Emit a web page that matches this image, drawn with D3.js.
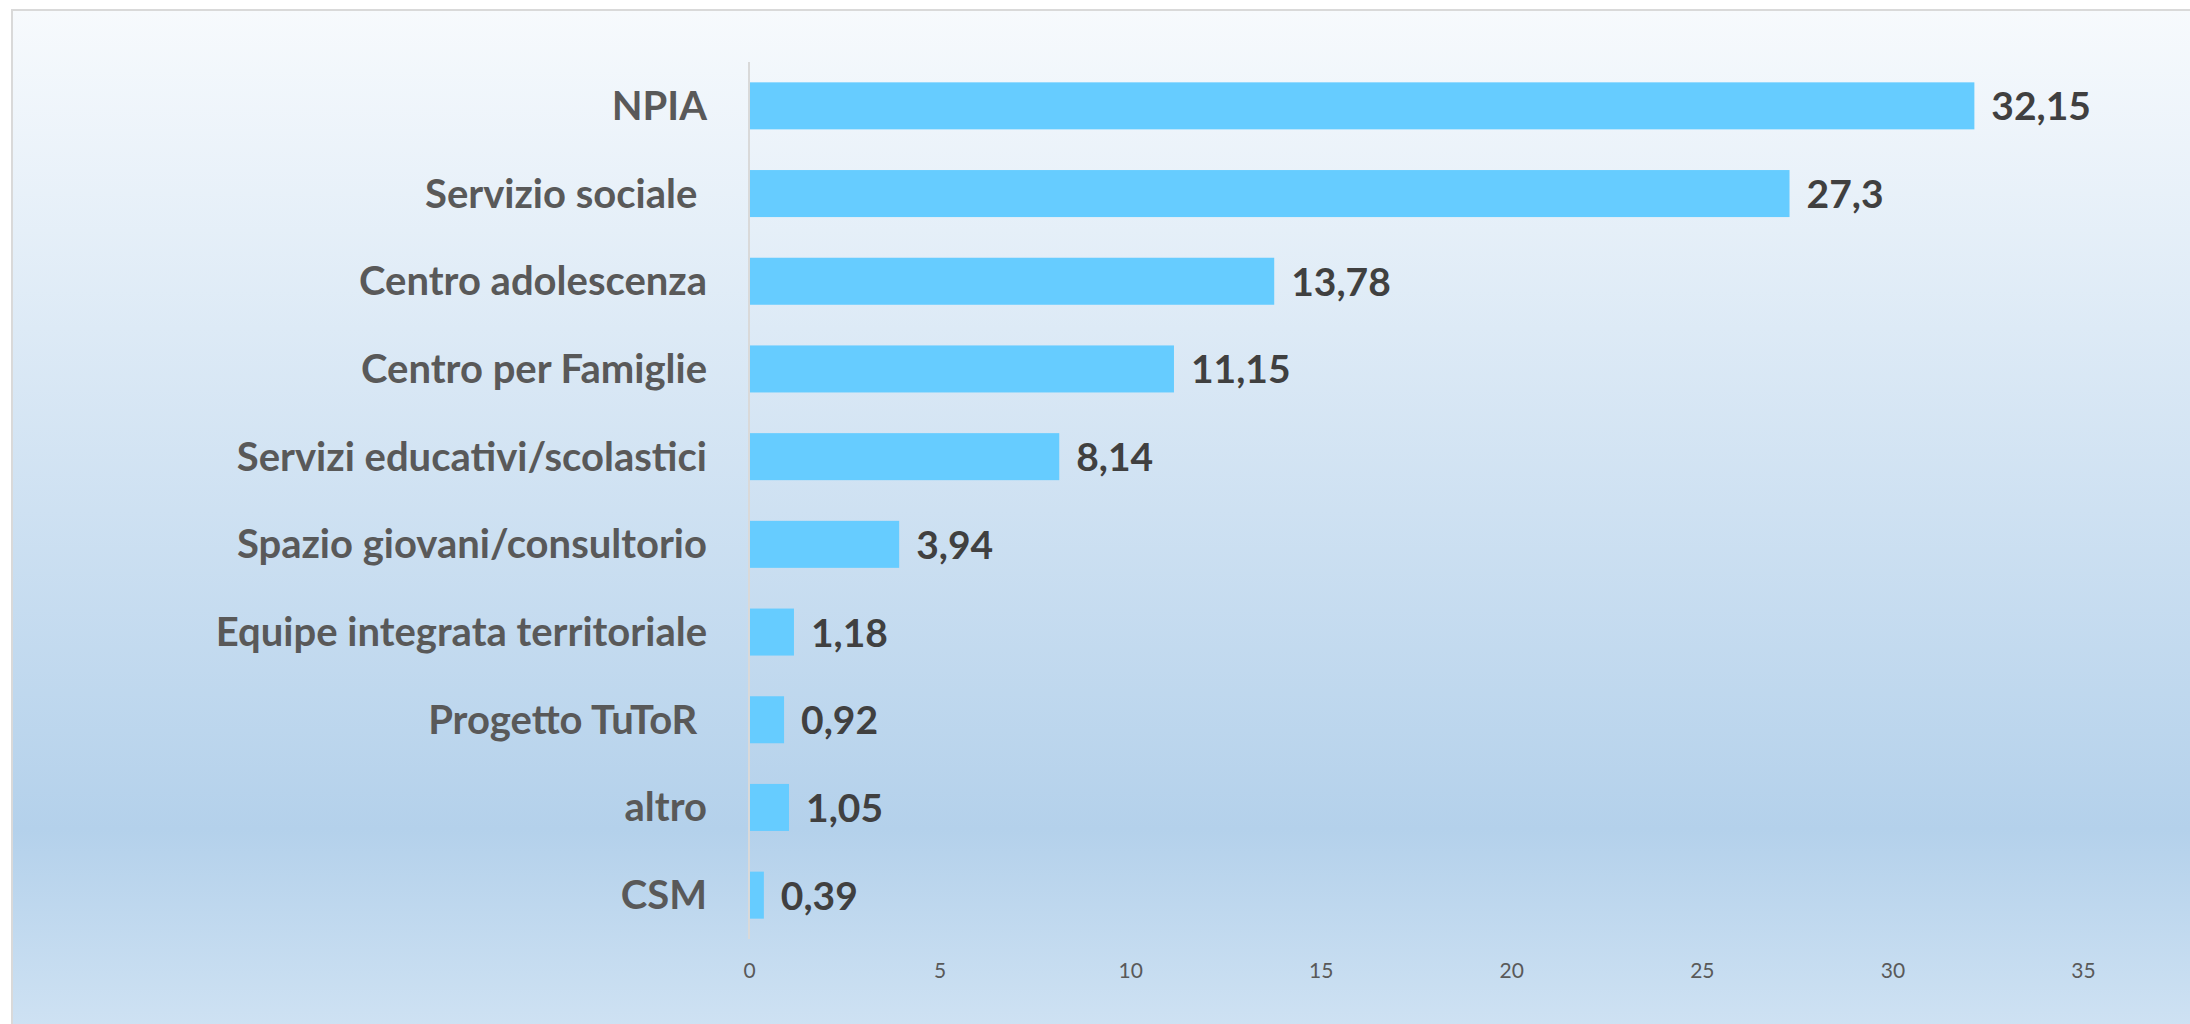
<!DOCTYPE html>
<html>
<head>
<meta charset="utf-8">
<script src="https://cdn.jsdelivr.net/npm/d3@7"></script>
<style>
  body { margin: 0; background: #fff; }
  svg text { white-space: pre; }
</style>
</head>
<body>
<div id="chart"></div>
<script>
// ===========================================================
// DATA
// ===========================================================
var categories = [
    "NPIA",
    "Servizio sociale ",
    "Centro adolescenza",
    "Centro per Famiglie",
    "Servizi educativi/scolastici",
    "Spazio giovani/consultorio",
    "Equipe integrata territoriale",
    "Progetto TuToR ",
    "altro",
    "CSM"
];
var values = [32.15, 27.3, 13.78, 11.15, 8.14, 3.94, 1.18, 0.92, 1.05, 0.39];
var valueLabels = ["32,15", "27,3", "13,78", "11,15", "8,14", "3,94", "1,18", "0,92", "1,05", "0,39"];
var xTicks = [0, 5, 10, 15, 20, 25, 30, 35];

// ===========================================================
// SIZES
// ===========================================================
var svgWidth = 2190;
var svgHeight = 1024;

var plot = { left: 749, right: 2083, top: 62, bottom: 939 };

var svg = d3.select('#chart')
    .append('svg')
    .attr('width', svgWidth)
    .attr('height', svgHeight);

// background gradient
var defs = svg.append('defs');
var grad = defs.append('linearGradient')
    .attr('id', 'bg')
    .attr('x1', 0).attr('y1', 0)
    .attr('x2', 0).attr('y2', 1);
grad.append('stop').attr('offset', '0').attr('stop-color', '#f7fafd');
grad.append('stop').attr('offset', '0.8').attr('stop-color', '#b4d1eb');
grad.append('stop').attr('offset', '1').attr('stop-color', '#cfe2f3');

svg.append('rect')
    .attr('x', 12)
    .attr('y', 10)
    .attr('width', svgWidth)
    .attr('height', svgHeight)
    .attr('fill', 'url(#bg)')
    .attr('stroke', '#d9d9d9')
    .attr('stroke-width', 2);

// ===========================================================
// SCALES
// ===========================================================
var x = d3.scaleLinear()
    .domain([0, 35])
    .range([plot.left, plot.right]);

var y = d3.scaleBand()
    .domain(categories)
    .range([plot.top, plot.bottom])
    .paddingInner(0.464)
    .paddingOuter(0.232);

// x axis labels
var xAxis = svg.append('g')
    .attr('transform', 'translate(0,' + 978 + ')')
    .call(d3.axisBottom(x).tickValues(xTicks).tickSize(0).tickFormat(d3.format('d')));
xAxis.select('.domain').remove();
xAxis.selectAll('text')
    .attr('y', 0)
    .attr('dy', 0)
    .attr('fill', '#595959')
    .style('font-family', 'Lato, sans-serif')
    .style('font-size', '21px');

// bars
svg.append('g')
    .selectAll('rect')
    .data(values)
    .enter()
    .append('rect')
    .attr('x', x(0))
    .attr('y', function(d, i) { return y(categories[i]); })
    .attr('width', function(d) { return x(d) - x(0); })
    .attr('height', y.bandwidth())
    .attr('fill', '#66ccff');

// vertical axis line
svg.append('line')
    .attr('x1', x(0)).attr('x2', x(0))
    .attr('y1', plot.top).attr('y2', plot.bottom)
    .attr('stroke', '#d9d9d9')
    .attr('stroke-width', 2);

// ===========================================================
// LABELS
// ===========================================================
svg.append('g')
    .selectAll('text')
    .data(categories)
    .enter()
    .append('text')
    .attr('x', 707)
    .attr('y', function(d) { return y(d) + y.bandwidth() / 2 + 14; })
    .attr('text-anchor', 'end')
    .attr('fill', '#595959')
    .style('font-family', 'Lato, sans-serif')
    .style('font-weight', 'bold')
    .style('font-size', '40px')
    .text(function(d) { return d; });

svg.append('g')
    .selectAll('text')
    .data(values)
    .enter()
    .append('text')
    .attr('x', function(d) { return x(d) + 17; })
    .attr('y', function(d, i) { return y(categories[i]) + y.bandwidth() / 2 + 14.5; })
    .attr('fill', '#404040')
    .style('font-family', 'Lato, sans-serif')
    .style('font-weight', 'bold')
    .style('font-size', '39px')
    .text(function(d, i) { return valueLabels[i]; });
</script>
</body>
</html>
